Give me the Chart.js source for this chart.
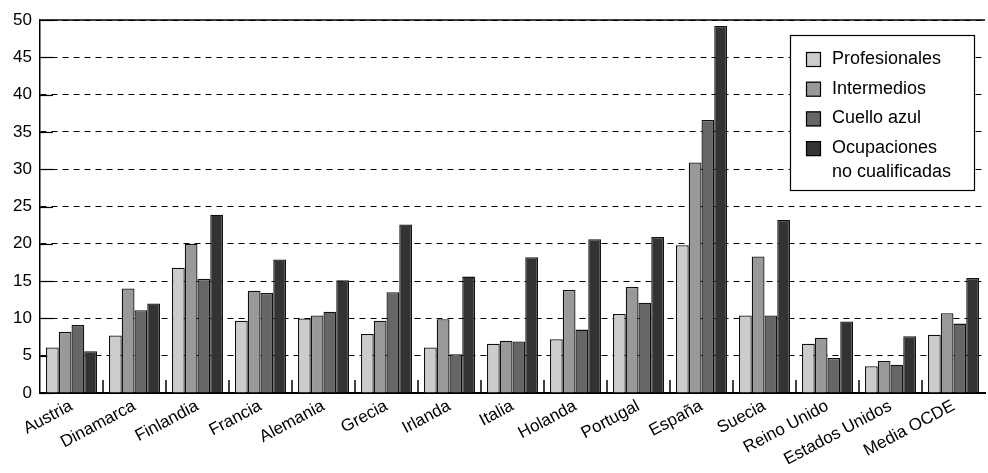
<!DOCTYPE html>
<html>
<head>
<meta charset="utf-8">
<script src="https://cdn.jsdelivr.net/npm/chart.js@4"></script>
<style>
  body { margin: 0; background: #fff; }
  #wrap { width: 988px; height: 473px; }
</style>
</head>
<body>
<div id="wrap"><canvas id="chart"></canvas></div>
<script>
// Datos
const categories = ["Austria", "Dinamarca", "Finlandia", "Francia", "Alemania", "Grecia", "Irlanda",
  "Italia", "Holanda", "Portugal", "España", "Suecia", "Reino Unido", "Estados Unidos", "Media OCDE"];
const profesionales = [6.1, 7.7, 16.8, 9.7, 10.0, 7.9, 6.1, 6.6, 7.2, 10.6, 19.8, 10.4, 6.6, 3.6, 7.8];
const intermedios = [8.2, 14.0, 20.0, 13.7, 10.4, 9.7, 9.9, 7.0, 13.8, 14.2, 30.9, 18.3, 7.4, 4.3, 10.7];
const cuelloAzul = [9.1, 11.1, 15.3, 13.4, 10.9, 13.5, 5.2, 6.9, 8.5, 12.1, 36.6, 10.4, 4.7, 3.8, 9.3];
const noCualificadas = [5.6, 12.0, 23.9, 17.9, 15.1, 22.6, 15.6, 18.2, 20.6, 20.9, 49.2, 23.2, 9.6, 7.6, 15.4];
const yTicks = [0, 5, 10, 15, 20, 25, 30, 35, 40, 45, 50];

const FONT = "'Liberation Sans', Arial, Helvetica, sans-serif";

function line(ctx, x1, y1, x2, y2) {
  ctx.beginPath();
  ctx.moveTo(x1, y1);
  ctx.lineTo(x2, y2);
  ctx.stroke();
}

// marcas internas + linea superior + leyenda
const extras = {
  id: "extras",
  beforeDatasetsDraw(chart) {
    const { ctx, chartArea: a, scales: { x, y } } = chart;
    ctx.save();
    ctx.strokeStyle = "#000";
    ctx.lineWidth = 1.5;
    line(ctx, a.left, a.top, a.right, a.top);
    ctx.lineWidth = 1.2;
    y.ticks.forEach(t => {
      const py = Math.round(y.getPixelForValue(t.value)) + 0.5;
      line(ctx, a.left, py, a.left + 13, py);
    });
    ctx.lineWidth = 1.5;
    for (let i = 1; i < categories.length; i++) {
      const px = (x.getPixelForValue(i - 1) + x.getPixelForValue(i)) / 2;
      line(ctx, px, a.bottom, px, a.bottom - 13);
    }
    ctx.restore();
  },
  afterDatasetsDraw(chart) {
    const { ctx, chartArea: a } = chart;
    const w = 184, h = 155;
    const bx = a.right - 11 - w, by = a.top + 15;
    ctx.save();
    ctx.fillStyle = "#fff";
    ctx.fillRect(bx, by, w, h);
    ctx.strokeStyle = "#000";
    ctx.lineWidth = 1.2;
    ctx.strokeRect(bx + 0.5, by + 0.5, w, h);
    ctx.font = "18px " + FONT;
    ctx.textBaseline = "middle";
    let rowY = by + 24;
    chart.data.datasets.forEach(ds => {
      ctx.fillStyle = ds.backgroundColor;
      ctx.fillRect(bx + 16, rowY - 7, 15, 15);
      ctx.strokeStyle = "#000";
      ctx.strokeRect(bx + 16.5, rowY - 6.5, 14, 14);
      ctx.fillStyle = "#000";
      const lines = ds.label.split("\n");
      lines.forEach((t, k) => ctx.fillText(t, bx + 42, rowY + k * 23.5));
      rowY += 29.7;
    });
    ctx.restore();
  }
};

const colors = ["#cccccc", "#999999", "#666666", "#333333"];
const labels = ["Profesionales", "Intermedios", "Cuello azul", "Ocupaciones\nno cualificadas"];
const series = [profesionales, intermedios, cuelloAzul, noCualificadas];

new Chart(document.getElementById("chart"), {
  type: "bar",
  data: {
    labels: categories,
    datasets: series.map((s, i) => ({
      label: labels[i],
      data: s,
      backgroundColor: colors[i],
      borderColor: "#111",
      borderWidth: 1.3,
      categoryPercentage: 0.81,
      barPercentage: 1
    }))
  },
  options: {
    responsive: true,
    maintainAspectRatio: false,
    animation: false,
    layout: { padding: { top: 20, right: 3, left: 0, bottom: 0 } },
    plugins: {
      legend: { display: false },
      tooltip: { enabled: false }
    },
    scales: {
      x: {
        grid: { display: false, drawTicks: false },
        border: { display: true, color: "#000", width: 2 },
        ticks: {
          color: "#000",
          font: { family: FONT, size: 17 },
          maxRotation: 28,
          minRotation: 28,
          padding: 3
        },
        afterFit: s => { s.height = 80; }
      },
      y: {
        min: 0,
        max: 50,
        afterBuildTicks: s => { s.ticks = yTicks.map(v => ({ value: v })); },
        grid: { color: "#000", lineWidth: 1, drawTicks: false },
        border: { display: true, color: "#000", width: 1.5, dash: [6, 5] },
        ticks: {
          color: "#000",
          font: { family: FONT, size: 17 },
          padding: 8
        },
        afterFit: s => { s.width = 40; }
      }
    }
  },
  plugins: [extras]
});
</script>
</body>
</html>
